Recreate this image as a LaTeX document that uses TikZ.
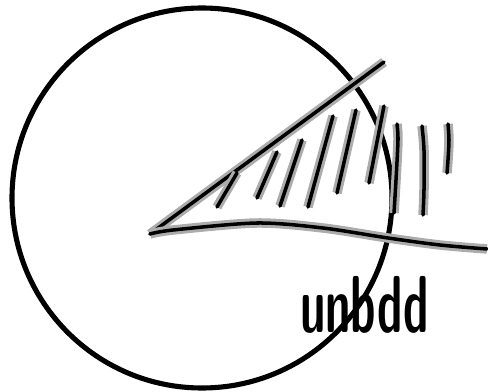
\documentclass[tikz,border=0pt]{standalone}
\begin{document}
\begin{tikzpicture}[x=0.02cm, y=-0.02cm,
		pen/.style={line width=2pt, black, line cap=round, line join=round, preaction={draw=gray!65, line width=5.4pt}}]
			\useasboundingbox (0,0) rectangle (488,392);
			% the big circle
			\draw[line width=2.9pt] (202,198) circle (190);
			% the wedge, opening to the right
			\draw[pen] (384,62) -- (150,234);
			\draw[pen] plot[smooth] coordinates {(150,234) (173,230) (257,223) (323,228) (388,238) (440,245) (487,249)};
			% hatching inside the wedge
			\draw[pen] (237,173) -- (217,207);
			\draw[pen] (277,152) -- (257,198);
			\draw[pen] (302,140) -- (280,206);
			\draw[pen] (333,116) -- (308,207);
			\draw[pen] (356,110) -- (337,193);
			\draw[pen] (384,106) -- (369,183);
			\draw[pen] plot[smooth] coordinates {(397,124) (398,140) (396,180) (394,213)};
			\draw[pen] plot[smooth] coordinates {(422,126) (424,150) (424,190) (423,215)};
			\draw[pen] plot[smooth] coordinates {(448,124) (449,140) (448,160) (447,173)};
			\node[font=\sffamily\bfseries\fontsize{46}{46}\selectfont, xscale=0.56, anchor=base west, inner sep=0pt] (unbdd) at (300,333) {unbdd};
		\end{tikzpicture}
\end{document}
